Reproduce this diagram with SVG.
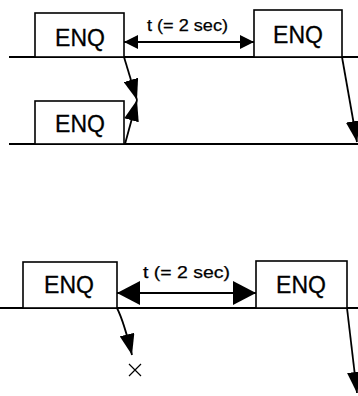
<svg xmlns="http://www.w3.org/2000/svg" width="358" height="396" viewBox="0 0 358 396">
<style>
.bg{fill:#fff}
.box{fill:#fff;stroke:#000;stroke-width:1.6}
.lbl{font-family:"Liberation Sans",Arial,sans-serif;font-size:23px;fill:#000;stroke:#000;stroke-width:0.3;text-anchor:middle}
.t{font-family:"Liberation Sans",Arial,sans-serif;font-size:16px;fill:#000;stroke:#000;stroke-width:0.25}
.ln{stroke:#000;stroke-width:1.8;fill:none}
.cn{stroke:#000;stroke-width:1.8;fill:none}
</style>
<defs>
<marker id="ahS" markerUnits="userSpaceOnUse" viewBox="0 0 14 14" refX="14" refY="7" markerWidth="14" markerHeight="14" orient="auto-start-reverse"><path d="M0,0 L14,7 L0,14 z" fill="#000"/></marker>
<marker id="ahL" markerUnits="userSpaceOnUse" viewBox="0 0 23 24" refX="23" refY="12" markerWidth="23" markerHeight="24" orient="auto-start-reverse"><path d="M0,0 L23,12 L0,24 z" fill="#000"/></marker>
<marker id="ahD" markerUnits="userSpaceOnUse" viewBox="0 0 21 15" refX="21" refY="7.5" markerWidth="21" markerHeight="15" orient="auto"><path d="M0,0 L21,7.5 L0,15 z" fill="#000"/></marker>
</defs>
<rect class="bg" x="0" y="0" width="358" height="396"/>
<g id="timelines">
<line class="ln" x1="9" y1="57" x2="358" y2="57"/>
<line class="ln" x1="9" y1="144" x2="358" y2="144"/>
<line class="ln" x1="0" y1="308" x2="358" y2="308"/>
</g>
<g id="enq1"><rect class="box" x="35" y="13" width="89" height="44"/><text class="lbl" x="80" y="46">ENQ</text></g>
<g id="enq2"><rect class="box" x="254" y="10" width="88" height="47"/><text class="lbl" x="298" y="43">ENQ</text></g>
<g id="enq3"><rect class="box" x="35" y="101" width="89" height="43"/><text class="lbl" x="80" y="132">ENQ</text></g>
<g id="enq4"><rect class="box" x="23" y="262" width="94" height="46"/><text class="lbl" x="69" y="293">ENQ</text></g>
<g id="enq5"><rect class="box" x="256" y="261" width="91" height="47"/><text class="lbl" x="301" y="293">ENQ</text></g>
<g id="connectors">
<line class="cn" x1="124" y1="42" x2="254" y2="42" marker-start="url(#ahS)" marker-end="url(#ahS)"/>
<line class="cn" x1="117" y1="293" x2="256" y2="293" marker-start="url(#ahL)" marker-end="url(#ahL)"/>
<line class="cn" x1="124" y1="57" x2="137" y2="100" marker-end="url(#ahD)"/>
<line class="cn" x1="125" y1="144" x2="137" y2="100" marker-end="url(#ahD)"/>
<line class="cn" x1="342" y1="57" x2="357" y2="142" marker-end="url(#ahD)"/>
<path class="cn" d="M117,308 Q124,322 132,355" marker-end="url(#ahD)"/>
<line class="cn" x1="347" y1="308" x2="357" y2="393" marker-end="url(#ahD)"/>
</g>
<g id="labels">
<text class="t" x="147" y="31" textLength="81" lengthAdjust="spacingAndGlyphs">t (= 2 sec)</text>
<text class="t" x="143" y="278" textLength="87" lengthAdjust="spacingAndGlyphs">t (= 2 sec)</text>
</g>
<g id="cross"><path d="M129,364 L141,376 M141,364 L129,376" stroke="#000" stroke-width="1.2" fill="none"/></g>
</svg>
